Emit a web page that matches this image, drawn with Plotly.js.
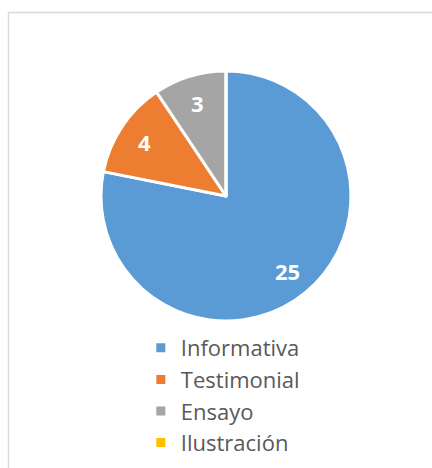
<!DOCTYPE html>
<html>
<head>
<meta charset="utf-8">
<script src="https://cdn.plot.ly/plotly-3.0.1.min.js"></script>
<style>html,body{margin:0;padding:0;background:#fff;}#chart{width:432px;height:468px;}</style>
</head>
<body>
<div id="chart"></div>
<script>
var categories = ["Informativa", "Testimonial", "Ensayo", "Ilustración"];
var values = [25, 4, 3, 0];
var colors = ["#5B9BD5", "#ED7D31", "#A5A5A5", "#FFC000"];

var W = 432, H = 468;
var cx = 226, cy = 196, R = 125;
var domX = [(cx - R) / W, (cx + R) / W];
var domY = [1 - (cy + R) / H, 1 - (cy - R) / H];

var total = values.reduce(function (a, b) { return a + b; }, 0);
var annotations = [];
var cum = 0;
for (var i = 0; i < values.length; i++) {
  var v = values[i];
  if (v > 0) {
    var mid = (cum + v / 2) / total * 2 * Math.PI;
    var rr = 0.78 * R;
    annotations.push({
      xref: "paper", yref: "paper",
      x: (cx + rr * Math.sin(mid)) / W,
      y: 1 - (cy - rr * Math.cos(mid)) / H,
      text: "<b>" + v + "</b>",
      showarrow: false,
      font: {family: "'Open Sans', Lato, sans-serif", size: 22, color: "#FFFFFF"},
      xanchor: "center", yanchor: "middle"
    });
  }
  cum += v;
}

var data = [{
  type: "pie",
  labels: categories,
  values: values,
  sort: false,
  direction: "clockwise",
  rotation: 0,
  textinfo: "none",
  hoverinfo: "label+value",
  marker: {colors: colors, line: {color: "#FFFFFF", width: 3}},
  domain: {x: domX, y: domY}
}];

var layout = {
  width: W, height: H,
  margin: {l: 0, r: 0, t: 0, b: 0},
  paper_bgcolor: "#FFFFFF",
  showlegend: true,
  legend: {
    orientation: "v",
    x: 0.326, xanchor: "left",
    y: 0.3013, yanchor: "top",
    font: {family: "'Open Sans', Lato, sans-serif", size: 22, color: "#595959"},
    bgcolor: "rgba(0,0,0,0)"
  },
  annotations: annotations,
  shapes: [{
    type: "rect", xref: "paper", yref: "paper",
    x0: 8.5 / W, x1: 1.05, y0: -0.05, y1: 1 - 12.5 / H,
    line: {color: "#D9D9D9", width: 1.5}, fillcolor: "rgba(0,0,0,0)", layer: "below"
  }]
};

Plotly.newPlot("chart", data, layout, {displayModeBar: false, staticPlot: true});
</script>
</body>
</html>
